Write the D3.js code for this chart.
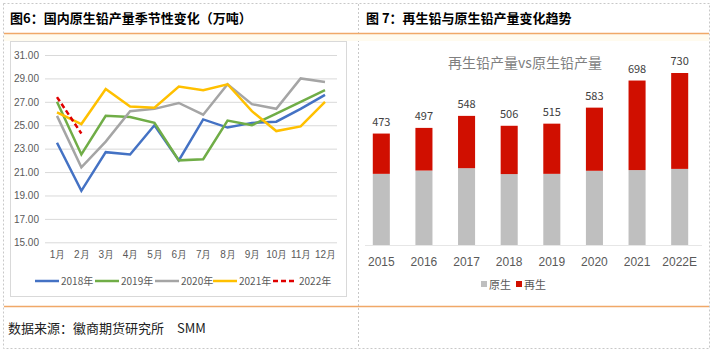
<!DOCTYPE html>
<html>
<head>
<meta charset="utf-8">
<script src="https://cdn.jsdelivr.net/npm/d3@7"></script>
<style>
  body { margin: 0; background: #fff; }
  svg { display: block; font-family: "Noto Sans CJK SC", "Noto Sans", sans-serif; }
</style>
</head>
<body>
<div id="chart"></div>
<script>
const W = 714;
const H = 352;

// left chart data (万吨)
const months = ['1月', '2月', '3月', '4月', '5月', '6月', '7月', '8月', '9月', '10月', '11月', '12月'];
const y2018 = [23.5, 19.4, 22.7, 22.5, 25.0, 22.0, 25.5, 24.8, 25.2, 25.3, 26.4, 27.6];
const y2019 = [27.0, 22.5, 25.8, 25.7, 25.2, 22.0, 22.1, 25.4, 25.0, 26.0, 27.0, 28.0];
const y2020 = [25.8, 21.4, 23.6, 26.2, 26.4, 26.9, 25.9, 28.5, 26.8, 26.4, 29.0, 28.7];
const y2021 = [26.1, 25.1, 28.1, 26.6, 26.5, 28.3, 28.0, 28.5, 26.2, 24.5, 24.9, 27.0];
const y2022 = [27.4, 24.3];
const yTicks = [15, 17, 19, 21, 23, 25, 27, 29, 31];

// right chart data
const years = ['2015', '2016', '2017', '2018', '2019', '2020', '2021', '2022E'];
const primary = [302, 316, 326, 301, 302, 315, 318, 323];
const secondary = [171, 181, 222, 205, 213, 268, 380, 407];

const svg = d3.select('#chart')
    .append('svg')
    .attr('width', W)
    .attr('height', H)

// frame
const dash = '2,2'
svg.append('rect').attr('x', 3.5).attr('y', 3.5).attr('width', 706).attr('height', 345)
    .attr('fill', 'none').attr('stroke', '#c8c8c8').attr('stroke-dasharray', dash)
svg.append('line').attr('x1', 358.5).attr('x2', 358.5).attr('y1', 4).attr('y2', 348)
    .attr('stroke', '#c8c8c8').attr('stroke-dasharray', dash)
svg.append('rect').attr('x', 4).attr('y', 34).attr('width', 705).attr('height', 7).attr('fill', '#fffbef')
svg.append('line').attr('x1', 4).attr('x2', 709).attr('y1', 33.5).attr('y2', 33.5)
    .attr('stroke', '#f0a868').attr('stroke-width', 1.5)
svg.append('line').attr('x1', 4).attr('x2', 709).attr('y1', 306.5).attr('y2', 306.5)
    .attr('stroke', '#f0a868').attr('stroke-width', 1.5)

svg.append('text').text('图6：国内原生铅产量季节性变化（万吨）')
    .attr('x', 10).attr('y', 23).attr('font-size', 13).attr('font-weight', 'bold').attr('fill', '#000')
svg.append('text').text('图 7：再生铅与原生铅产量变化趋势')
    .attr('x', 366).attr('y', 23).attr('font-size', 13).attr('font-weight', 'bold').attr('fill', '#000')
svg.append('text').text('数据来源：徽商期货研究所　SMM')
    .attr('x', 8).attr('y', 333).attr('font-size', 13).attr('fill', '#222')

// ---- left line chart ----
svg.append('rect').attr('x', 10.5).attr('y', 41.5).attr('width', 336).attr('height', 255)
    .attr('fill', '#fff').attr('stroke', '#d9d9d9')

const x = d3.scalePoint().domain(months).range([57, 325])
const y = d3.scaleLinear().domain([15, 31]).range([242.3, 55])

const yAxis = svg.append('g')
    .attr('transform', 'translate(45,0)')
    .call(d3.axisLeft(y).tickValues(yTicks).tickFormat(d3.format('.2f')).tickSize(-292).tickPadding(6))
yAxis.select('.domain').remove()
yAxis.selectAll('line').attr('stroke', '#d9d9d9')
yAxis.selectAll('text').attr('fill', '#595959').attr('font-size', 10)

const xAxis = svg.append('g')
    .attr('transform', 'translate(0,242.3)')
    .call(d3.axisBottom(x).tickSize(0).tickPadding(9))
xAxis.select('.domain').remove()
xAxis.selectAll('text').attr('fill', '#595959').attr('font-size', 10)

const series = [
    { name: '2018年', values: y2018, color: '#4472c4', dash: null },
    { name: '2019年', values: y2019, color: '#70ad47', dash: null },
    { name: '2020年', values: y2020, color: '#a5a5a5', dash: null },
    { name: '2021年', values: y2021, color: '#ffc000', dash: null },
    { name: '2022年', values: y2022, color: '#e00000', dash: '5,3' }
]

const line = d3.line()
    .x((d, i) => x(months[i]))
    .y((d) => y(d))

svg.selectAll('path.series')
    .data(series)
    .enter()
    .append('path')
    .attr('class', 'series')
    .attr('d', (d) => line(d.values))
    .attr('fill', 'none')
    .attr('stroke', (d) => d.color)
    .attr('stroke-width', 2.5)
    .attr('stroke-dasharray', (d) => d.dash)

const legendX = [35, 95, 155, 213, 273]
const legend = svg.selectAll('g.legend')
    .data(series)
    .enter()
    .append('g')
    .attr('class', 'legend')
    .attr('transform', (d, i) => `translate(${legendX[i]},281)`)
legend.append('line')
    .attr('x1', 0).attr('x2', 24)
    .attr('stroke', (d) => d.color)
    .attr('stroke-width', 2.5)
    .attr('stroke-dasharray', (d) => d.dash)
legend.append('text')
    .text((d) => d.name)
    .attr('x', 26).attr('y', 3.5)
    .attr('font-size', 10).attr('fill', '#595959')

// ---- right stacked bar chart ----
const xb = d3.scaleBand().domain(years).range([360, 701]).paddingInner(0.6).paddingOuter(0.3)
const yb = d3.scaleLinear().domain([0, 730]).range([245, 73])

svg.append('text').text('再生铅产量vs原生铅产量')
    .attr('x', 525).attr('y', 68).attr('text-anchor', 'middle')
    .attr('font-size', 14).attr('fill', '#7f7f7f')

const barData = years.map((yr, i) => ({ year: yr, p: primary[i], s: secondary[i] }))

svg.selectAll('rect.prim')
    .data(barData)
    .enter()
    .append('rect')
    .attr('class', 'prim')
    .attr('x', (d) => xb(d.year))
    .attr('y', (d) => yb(d.p))
    .attr('width', xb.bandwidth())
    .attr('height', (d) => yb(0) - yb(d.p))
    .attr('fill', '#bfbfbf')

svg.selectAll('rect.sec')
    .data(barData)
    .enter()
    .append('rect')
    .attr('class', 'sec')
    .attr('x', (d) => xb(d.year))
    .attr('y', (d) => yb(d.p + d.s))
    .attr('width', xb.bandwidth())
    .attr('height', (d) => yb(d.p) - yb(d.p + d.s))
    .attr('fill', '#d00f00')

svg.selectAll('text.total')
    .data(barData)
    .enter()
    .append('text')
    .attr('class', 'total')
    .text((d) => d.p + d.s)
    .attr('x', (d) => xb(d.year) + xb.bandwidth() / 2)
    .attr('y', (d) => yb(d.p + d.s) - 8)
    .attr('text-anchor', 'middle')
    .attr('font-size', 11)
    .attr('fill', '#404040')

const xbAxis = svg.append('g')
    .attr('transform', 'translate(0,245)')
    .call(d3.axisBottom(xb).tickSize(0).tickPadding(12).tickSizeOuter(0))
xbAxis.select('.domain').attr('stroke', '#e6e6e6').attr('d', 'M365,0.5H702')
xbAxis.selectAll('text').attr('fill', '#595959').attr('font-size', 12)

const barLegend = [
    { name: '原生', color: '#bfbfbf', x: 481 },
    { name: '再生', color: '#d00f00', x: 516 }
]
const bl = svg.selectAll('g.blegend')
    .data(barLegend)
    .enter()
    .append('g')
    .attr('class', 'blegend')
    .attr('transform', (d) => `translate(${d.x},285)`)
bl.append('rect').attr('x', 0).attr('y', -4).attr('width', 6).attr('height', 6).attr('fill', (d) => d.color)
bl.append('text').text((d) => d.name).attr('x', 8).attr('y', 4)
    .attr('font-size', 11).attr('fill', '#595959')
</script>
</body>
</html>
